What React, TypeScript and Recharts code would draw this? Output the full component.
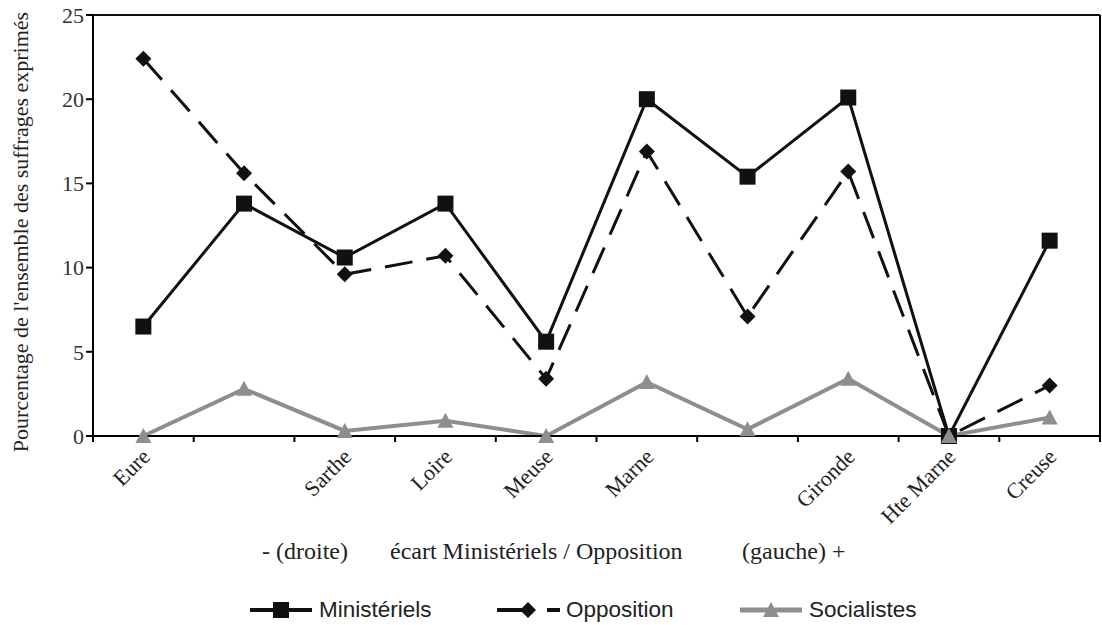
import { CartesianGrid, Legend, Line, LineChart, XAxis, YAxis } from "recharts";

const categories = ["Eure", "", "Sarthe", "Loire", "Meuse", "Marne", "", "Gironde", "Hte Marne", "Creuse"];
const ministeriels = [6.5, 13.8, 10.6, 13.8, 5.6, 20.0, 15.4, 20.1, 0, 11.6];
const opposition = [22.4, 15.6, 9.6, 10.7, 3.4, 16.9, 7.1, 15.7, 0, 3.0];
const socialistes = [0, 2.8, 0.3, 0.9, 0, 3.2, 0.4, 3.4, 0, 1.1];
const yTicks = [0, 5, 10, 15, 20, 25];

const data = categories.map((name, i) => ({
  idx: i,
  name,
  ministeriels: ministeriels[i],
  opposition: opposition[i],
  socialistes: socialistes[i]
}));

const SERIF = "'Liberation Serif', 'DejaVu Serif', serif";
const SANS = "'Liberation Sans', Arial, sans-serif";
const GREY = "#8e8e8e";
const TEXT = "#222";

function XTick(props: any) {
  const { x, y, payload, index } = props;
  const half = payload.offset ?? 50.35;
  const label = categories[payload.value] ?? "";
  return (
    <g>
      <line x1={x - half} x2={x - half} y1={y - 1} y2={y + 6} stroke="#000" strokeWidth={2} />
      {index === categories.length - 1 && (
        <line x1={x + half} x2={x + half} y1={y - 1} y2={y + 6} stroke="#000" strokeWidth={2} />
      )}
      <text
        transform={`translate(${x + 8},${y + 22}) rotate(-45)`}
        textAnchor="end"
        fontFamily={SERIF}
        fontSize={22}
        fill={TEXT}
      >
        {label}
      </text>
    </g>
  );
}

function SquareDot(props: any) {
  const { cx, cy } = props;
  if (cx == null || cy == null) return null;
  return <rect x={cx - 8} y={cy - 8} width={16} height={16} fill="#111" />;
}

function DiamondDot(props: any) {
  const { cx, cy } = props;
  if (cx == null || cy == null) return null;
  return <polygon points={`${cx},${cy - 8} ${cx + 8},${cy} ${cx},${cy + 8} ${cx - 8},${cy}`} fill="#111" />;
}

function TriangleDot(props: any) {
  const { cx, cy } = props;
  if (cx == null || cy == null) return null;
  return <polygon points={`${cx},${cy - 8} ${cx + 8},${cy + 7} ${cx - 8},${cy + 7}`} fill={GREY} />;
}

function LegendContent() {
  const item = (icon: any, label: string, width: number) => (
    <div style={{ display: "flex", alignItems: "center", width }}>
      <svg width={64} height={20} style={{ marginRight: 5 }}>
        {icon}
      </svg>
      <span>{label}</span>
    </div>
  );
  return (
    <div
      style={{
        display: "flex",
        paddingLeft: 217,
        fontFamily: SANS,
        fontSize: 22.5,
        color: TEXT,
        height: 30,
        alignItems: "center"
      }}
    >
      {item(
        <g>
          <line x1={0} x2={62} y1={10} y2={10} stroke="#111" strokeWidth={4} />
          <rect x={23} y={2} width={16} height={16} fill="#111" />
        </g>,
        "Ministériels",
        247
      )}
      {item(
        <g>
          <line x1={0} x2={30} y1={10} y2={10} stroke="#111" strokeWidth={4} />
          <line x1={50} x2={63} y1={10} y2={10} stroke="#111" strokeWidth={4} />
          <polygon points="31,2 39,10 31,18 23,10" fill="#111" />
        </g>,
        "Opposition",
        243
      )}
      {item(
        <g>
          <line x1={0} x2={62} y1={10} y2={10} stroke={GREY} strokeWidth={5} />
          <polygon points="31,2 39,17 23,17" fill={GREY} />
        </g>,
        "Socialistes",
        200
      )}
    </div>
  );
}

export default function App() {
  return (
    <div style={{ position: "absolute", left: 0, top: 0, width: 1102, height: 625, background: "#fff" }}>
      <LineChart
        width={1102}
        height={625}
        data={data}
        margin={{ top: 15, right: 0, bottom: 0, left: 33 }}
      >
        <CartesianGrid horizontal vertical={false} stroke="#111" strokeWidth={2} />
        <XAxis
          dataKey="idx"
          type="category"
          scale="band"
          height={159}
          axisLine={{ stroke: "#000", strokeWidth: 2 }}
          tickLine={false}
          tickSize={0}
          tickMargin={0}
          interval={0}
          tick={<XTick />}
        />
        <YAxis
          yAxisId="left"
          width={60}
          domain={[0, 25]}
          ticks={yTicks}
          axisLine={{ stroke: "#000", strokeWidth: 2 }}
          tickLine={{ stroke: "#000", strokeWidth: 2 }}
          tickSize={7}
          tick={{ fontFamily: SERIF, fontSize: 22, fill: "#333" }}
        />
        <YAxis
          yAxisId="right"
          orientation="right"
          width={2}
          domain={[0, 25]}
          tick={false}
          tickLine={false}
          axisLine={{ stroke: "#000", strokeWidth: 2 }}
        />
        <Legend verticalAlign="bottom" height={30} content={<LegendContent />} />
        <Line
          yAxisId="left"
          dataKey="ministeriels"
          stroke="#111"
          strokeWidth={3}
          dot={<SquareDot />}
          activeDot={false}
          isAnimationActive={false}
        />
        <Line
          yAxisId="left"
          dataKey="opposition"
          stroke="#111"
          strokeWidth={3}
          strokeDasharray="28 14"
          dot={<DiamondDot />}
          activeDot={false}
          isAnimationActive={false}
        />
        <Line
          yAxisId="left"
          dataKey="socialistes"
          stroke={GREY}
          strokeWidth={4}
          dot={<TriangleDot />}
          activeDot={false}
          isAnimationActive={false}
        />
      </LineChart>
      <div
        style={{
          position: "absolute",
          left: 21,
          top: 232,
          transform: "translate(-50%, -50%) rotate(-90deg)",
          whiteSpace: "nowrap",
          fontFamily: SERIF,
          fontSize: 22,
          color: TEXT
        }}
      >
        Pourcentage de l'ensemble des suffrages exprimés
      </div>
      <div
        style={{
          position: "absolute",
          top: 538,
          left: 0,
          width: 1102,
          fontFamily: SERIF,
          fontSize: 24,
          color: TEXT,
          whiteSpace: "nowrap"
        }}
      >
        <span style={{ position: "absolute", left: 262 }}>- (droite)</span>
        <span style={{ position: "absolute", left: 390 }}>écart Ministériels / Opposition</span>
        <span style={{ position: "absolute", left: 742 }}>(gauche) +</span>
      </div>
    </div>
  );
}
